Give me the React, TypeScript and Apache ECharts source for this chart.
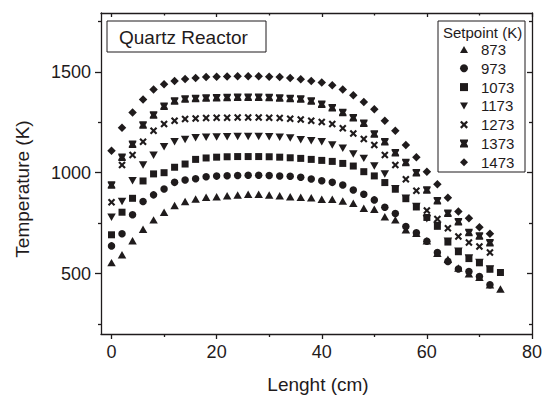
import React, { useEffect, useRef } from "react";
import * as echarts from "echarts";

const xShort = [0, 2, 4, 6, 8, 10, 12, 14, 16, 18, 20, 22, 24, 26, 28, 30, 32, 34, 36, 38, 40, 42, 44, 46, 48, 50, 52, 54, 56, 58, 60, 62, 64, 66, 68, 70, 72];
const xLong = [0, 2, 4, 6, 8, 10, 12, 14, 16, 18, 20, 22, 24, 26, 28, 30, 32, 34, 36, 38, 40, 42, 44, 46, 48, 50, 52, 54, 56, 58, 60, 62, 64, 66, 68, 70, 72, 74];

const setpoints = ["873", "973", "1073", "1173", "1273", "1373", "1473"];

const t873 = [554, 593, 663, 720, 766, 804, 837, 857, 870, 878, 881, 886, 889, 893, 893, 889, 886, 881, 878, 876, 868, 868, 860, 849, 824, 819, 782, 766, 717, 700, 663, 601, 571, 527, 499, 482, 444, 423];
const t973 = [637, 697, 791, 857, 890, 919, 952, 964, 970, 980, 983, 985, 986, 987, 987, 986, 984, 982, 977, 969, 960, 952, 939, 914, 893, 865, 829, 798, 733, 702, 660, 604, 560, 522, 510, 485, 444];
const t1073 = [692, 804, 873, 959, 994, 1000, 1027, 1043, 1066, 1073, 1077, 1079, 1080, 1080, 1080, 1079, 1077, 1074, 1071, 1066, 1061, 1056, 1046, 1033, 1005, 984, 951, 918, 871, 830, 778, 734, 656, 608, 574, 553, 521, 505];
const t1173 = [779, 857, 960, 1038, 1086, 1129, 1153, 1165, 1173, 1176, 1177, 1178, 1179, 1179, 1179, 1178, 1176, 1172, 1163, 1158, 1153, 1137, 1121, 1093, 1071, 1033, 994, 921, 873, 832, 772, 738, 660, 610, 577, 555, 523];
const t1273 = [853, 1038, 1088, 1153, 1208, 1241, 1257, 1266, 1269, 1271, 1272, 1273, 1274, 1274, 1274, 1273, 1271, 1268, 1264, 1257, 1252, 1241, 1220, 1195, 1167, 1137, 1088, 1038, 967, 911, 812, 770, 725, 683, 654, 634, 604];
const t1373 = [939, 1076, 1141, 1236, 1286, 1330, 1356, 1366, 1368, 1370, 1372, 1373, 1374, 1374, 1374, 1373, 1371, 1368, 1365, 1356, 1340, 1322, 1299, 1272, 1245, 1192, 1153, 1099, 1051, 1000, 914, 861, 799, 757, 703, 686, 653];
const t1473 = [1109, 1223, 1299, 1363, 1413, 1439, 1455, 1465, 1470, 1474, 1476, 1477, 1478, 1478, 1478, 1476, 1474, 1470, 1464, 1455, 1447, 1434, 1413, 1384, 1351, 1315, 1257, 1208, 1137, 1076, 1005, 943, 876, 807, 774, 729, 697];

const xMajor = [0, 20, 40, 60, 80];
const xMinor = [10, 30, 50, 70];
const yMajor = [500, 1000, 1500];
const yMinor = [250, 750, 1250, 1750];

const C = "#1f1b1c";
const F = "'Liberation Sans', Arial, Helvetica, sans-serif";

const crossPath = "path://M0,2L2,0L5,3L8,0L10,2L7,5L10,8L8,10L5,7L2,10L0,8L3,5Z";
const hourglassPath = "path://M0,0L10,0L10,2L8.2,5L10,8L10,10L0,10L0,8L1.8,5L0,2Z";
const downTriPath = "path://M0,0L10,0L5,8.8Z";
const upTriPath = "path://M5,0L10,8.8L0,8.8Z";

function zip(xs: number[], ys: number[]) {
  return ys.map((y, i) => [xs[i], y]);
}

export default function App() {
  const ref = useRef<HTMLDivElement>(null);
  useEffect(() => {
    if (!ref.current) return;
    const chart = echarts.init(ref.current, undefined, { renderer: "svg" });
    const lineStyle = { color: C, width: 1.3 };
    const xBase = { type: "value", min: -2, max: 80, splitLine: { show: false } };
    const yBase = { type: "value", min: 200, max: 1792, splitLine: { show: false } };
    const defs = [
      { name: setpoints[0], xs: xLong, ys: t873, symbol: upTriPath, size: 8.5 },
      { name: setpoints[1], xs: xShort, ys: t973, symbol: "circle", size: 7.5 },
      { name: setpoints[2], xs: xLong, ys: t1073, symbol: "rect", size: 7 },
      { name: setpoints[3], xs: xShort, ys: t1173, symbol: downTriPath, size: 8.5 },
      { name: setpoints[4], xs: xShort, ys: t1273, symbol: crossPath, size: 7.5 },
      { name: setpoints[5], xs: xShort, ys: t1373, symbol: hourglassPath, size: 7.5 },
      { name: setpoints[6], xs: xShort, ys: t1473, symbol: "diamond", size: 8.5 },
    ];
    chart.setOption({
      animation: false,
      grid: { left: 101, right: 10, top: 13, bottom: 61 },
      xAxis: [
        {
          ...xBase, position: "bottom",
          axisLine: { show: true, onZero: false, lineStyle },
          axisTick: { show: true, customValues: xMajor, length: 5, inside: false, lineStyle },
          axisLabel: { show: true, customValues: xMajor, margin: 9, fontSize: 18, color: C, fontFamily: F, formatter: (v: number) => String(v) },
        },
        {
          ...xBase, position: "bottom",
          axisLine: { show: false, onZero: false },
          axisTick: { show: true, customValues: xMinor, length: 3, inside: false, lineStyle },
          axisLabel: { show: false },
        },
        {
          ...xBase, position: "top",
          axisLine: { show: true, onZero: false, lineStyle },
          axisTick: { show: true, customValues: xMajor, length: 4, inside: true, lineStyle },
          axisLabel: { show: false },
        },
        {
          ...xBase, position: "top",
          axisLine: { show: false, onZero: false },
          axisTick: { show: true, customValues: xMinor, length: 2.5, inside: true, lineStyle },
          axisLabel: { show: false },
        },
      ],
      yAxis: [
        {
          ...yBase, position: "left",
          axisLine: { show: true, onZero: false, lineStyle },
          axisTick: { show: true, customValues: yMajor, length: 6, inside: false, lineStyle },
          axisLabel: { show: true, customValues: yMajor, margin: 10, fontSize: 18, color: C, fontFamily: F, formatter: (v: number) => String(v) },
        },
        {
          ...yBase, position: "left",
          axisLine: { show: false, onZero: false },
          axisTick: { show: true, customValues: yMinor, length: 3, inside: false, lineStyle },
          axisLabel: { show: false },
        },
        {
          ...yBase, position: "right",
          axisLine: { show: true, onZero: false, lineStyle },
          axisTick: { show: true, customValues: yMajor, length: 5, inside: true, lineStyle },
          axisLabel: { show: false },
        },
        {
          ...yBase, position: "right",
          axisLine: { show: false, onZero: false },
          axisTick: { show: true, customValues: yMinor, length: 3, inside: true, lineStyle },
          axisLabel: { show: false },
        },
      ],
      legend: {
        orient: "vertical",
        left: 455,
        top: 37,
        itemWidth: 8,
        itemHeight: 8,
        itemGap: 3.8,
        symbolKeepAspect: true,
        data: setpoints,
        textStyle: { fontSize: 15, lineHeight: 14, color: C, fontFamily: F, padding: [0, 0, 0, 8] },
      },
      graphic: [
        { type: "rect", shape: { x: 107, y: 21, width: 159, height: 31 }, style: { fill: "#fff", stroke: C, lineWidth: 1 }, z: 10 },
        { type: "text", x: 119, y: 37, style: { text: "Quartz Reactor", fontSize: 19, fontFamily: F, fill: C, textVerticalAlign: "middle" }, z: 11 },
        { type: "rect", shape: { x: 438, y: 21, width: 87, height: 151 }, style: { fill: "transparent", stroke: C, lineWidth: 1 }, z: 10 },
        { type: "text", x: 443, y: 32, style: { text: "Setpoint (K)", fontSize: 15, fontFamily: F, fill: C, textVerticalAlign: "middle" }, z: 11 },
        { type: "text", x: 22, y: 189, rotation: Math.PI / 2, style: { text: "Temperature (K)", fontSize: 19, fontFamily: F, fill: C, textAlign: "center", textVerticalAlign: "middle" } },
        { type: "text", x: 318, y: 384, style: { text: "Lenght (cm)", fontSize: 19, fontFamily: F, fill: C, textAlign: "center", textVerticalAlign: "middle" } },
      ],
      series: defs.map((d) => ({
        type: "scatter",
        name: d.name,
        xAxisIndex: 0,
        yAxisIndex: 0,
        symbol: d.symbol,
        symbolSize: d.size,
        symbolKeepAspect: true,
        itemStyle: { color: C, opacity: 1 },
        data: zip(d.xs, d.ys),
      })),
    });
    return () => chart.dispose();
  }, []);
  return <div ref={ref} style={{ width: 545, height: 395, position: "absolute", left: 0, top: 0 }} />;
}
